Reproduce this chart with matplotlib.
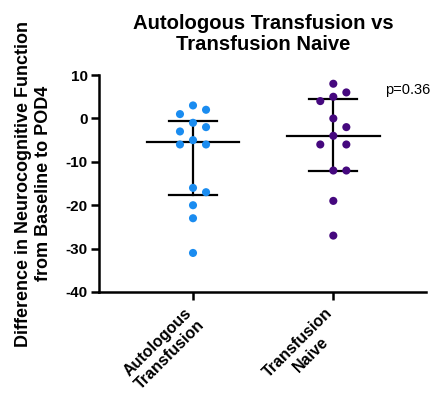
import numpy as np
import matplotlib
matplotlib.use("Agg")
import matplotlib.pyplot as plt

plt.rcParams['font.family'] = ['Liberation Sans', 'DejaVu Sans']
plt.rcParams['axes.unicode_minus'] = False

# values
groups = ["Autologous\nTransfusion", "Transfusion\nNaive"]
autologous = [3, 2, 1, -1, -2, -3, -5, -6, -6, -16, -17, -20, -23, -31]
naive = [8, 6, 5, 4, 0, -2, -4, -6, -6, -12, -12, -19, -27]
colors = ["#1a8cf0", "#45087e"]
p_text = "p=0.36"

SLOT = 6.5 / 140   # horizontal slot width in x units
NEAR = 2.5         # y distance under which two dots collide
MIN_SLOTS = 2      # slots between colliding dots


def swarm(vals):
    # greedy placement on a grid of slots, centre first
    placed = []
    out = []
    order = [0]
    for k in range(1, 20):
        order += [k, -k]
    for v in vals:
        for s in order:
            if all(abs(s - ps) >= MIN_SLOTS for ps, pv in placed if abs(v - pv) < NEAR):
                placed.append((s, v))
                out.append(s * SLOT)
                break
    return np.array(out)


fig = plt.figure(figsize=(4.4, 3.93), dpi=100)
ax = fig.add_axes([0.225, 0.257, 0.743, 0.552])

for i, (vals, col) in enumerate(zip([autologous, naive], colors)):
    vals = np.array(vals, dtype=float)
    xs = i + swarm(vals)
    ax.scatter(xs, vals, s=34, color=col, edgecolors='none', zorder=3)
    med = np.median(vals)
    q1, q3 = np.percentile(vals, [25, 75], method='weibull')
    ax.plot([i - 0.33, i + 0.33], [med, med], color='black', lw=1.6, zorder=2)
    ax.plot([i - 0.17, i + 0.17], [q1, q1], color='black', lw=1.6, zorder=2)
    ax.plot([i - 0.17, i + 0.17], [q3, q3], color='black', lw=1.6, zorder=2)
    ax.plot([i, i], [q1, q3], color='black', lw=1.6, zorder=2)

ax.set_xlim(-0.67, 1.66)
ax.set_ylim(-40, 10)
ax.set_yticks([10, 0, -10, -20, -30, -40])
ax.set_xticks(range(len(groups)))
ax.set_xticklabels([])
# rotated category labels, nudged left of the tick like the original
for i, g in enumerate(groups):
    ax.annotate(g, xy=(i, 0), xycoords=('data', 'axes fraction'),
                xytext=(-6, -9.5), textcoords='offset points',
                rotation=45, ha='right', va='top', rotation_mode='anchor',
                fontweight='bold', fontsize=11.5, multialignment='center')
for lab in ax.get_yticklabels():
    lab.set_fontweight('bold')
    lab.set_fontsize(11)
ax.spines['top'].set_visible(False)
ax.spines['right'].set_visible(False)
ax.spines['left'].set_linewidth(1.8)
ax.spines['bottom'].set_linewidth(1.8)
ax.tick_params(width=1.8, length=6, pad=2)

ax.set_ylabel("Difference in Neurocognitive Function\nfrom Baseline to POD4",
              fontweight='bold', fontsize=13, labelpad=10)
fig.text(0.598, 0.965, "Autologous Transfusion vs\nTransfusion Naive",
         ha='center', va='top', fontweight='bold', fontsize=14.6, linespacing=1.12)
ax.text(1.37, 6.5, p_text, ha='left', va='center', fontsize=10.5)

fig.savefig("out.png", dpi=100)
